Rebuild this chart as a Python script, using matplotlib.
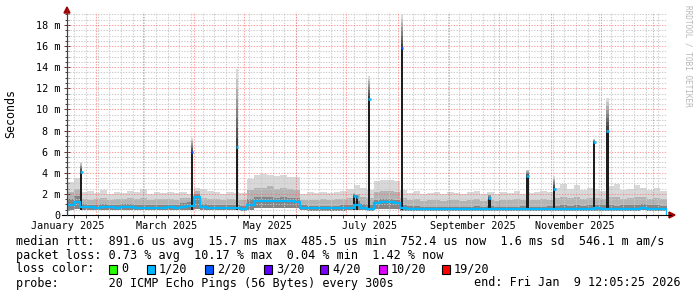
import matplotlib
matplotlib.use('Agg')
import matplotlib.pyplot as plt
import matplotlib.dates as mdates
from matplotlib.ticker import MultipleLocator, FuncFormatter
from matplotlib.patches import Rectangle, Polygon
from matplotlib.lines import Line2D
import numpy as np
import pandas as pd

plt.rcParams['font.family'] = ['DejaVu Sans Mono']
plt.rcParams['lines.scale_dashes'] = False

# ---------------- data ----------------
START = pd.Timestamp('2025-01-14 12:05:25')
END = pd.Timestamp('2026-01-09 12:05:25')
STEP_DAYS = 4  # consolidation step of the series below

# values in milliseconds, one per 4-day step
median_ms = [0.95, 1.25, 0.75, 0.72, 0.70, 0.80, 0.72, 0.70, 0.75, 0.80,
             0.70, 0.70, 0.68, 0.68, 0.70, 0.72, 0.70, 0.80, 0.85, 1.70,
             0.75, 0.65, 0.68, 0.65, 0.68, 0.65, 0.60, 0.95, 1.35, 1.30,
             1.35, 1.30, 1.35, 1.30, 1.25, 0.70, 0.62, 0.62, 0.62, 0.62,
             0.62, 0.65, 0.65, 0.90, 0.70, 0.60, 1.15, 1.20, 1.20, 1.10,
             0.65, 0.58, 0.58, 0.55, 0.55, 0.55, 0.55, 0.55, 0.55, 0.55,
             0.55, 0.58, 0.55, 0.60, 0.55, 0.55, 0.55, 0.55, 0.58, 0.55,
             0.55, 0.55, 0.58, 0.55, 0.58, 0.55, 0.58, 0.55, 0.60, 0.62,
             0.60, 0.60, 0.55, 0.60, 0.60, 0.60, 0.68, 0.60, 0.60, 0.55]
low_ms = [0.50, 0.55, 0.45, 0.45, 0.45, 0.45, 0.45, 0.45, 0.45, 0.45,
          0.45, 0.45, 0.45, 0.45, 0.45, 0.45, 0.45, 0.45, 0.45, 0.60,
          0.45, 0.45, 0.45, 0.45, 0.45, 0.45, 0.42, 0.50, 0.70, 0.70,
          0.70, 0.70, 0.70, 0.70, 0.70, 0.45, 0.42, 0.42, 0.42, 0.42,
          0.42, 0.42, 0.45, 0.50, 0.45, 0.42, 0.60, 0.60, 0.60, 0.60,
          0.42, 0.40, 0.40, 0.40, 0.40, 0.40, 0.40, 0.40, 0.40, 0.40,
          0.40, 0.40, 0.40, 0.40, 0.40, 0.40, 0.40, 0.40, 0.40, 0.40,
          0.40, 0.40, 0.40, 0.40, 0.40, 0.40, 0.40, 0.40, 0.40, 0.42,
          0.40, 0.40, 0.40, 0.40, 0.40, 0.40, 0.45, 0.40, 0.40, 0.40]
dense_ms = [1.50, 1.80, 1.00, 0.95, 0.95, 1.05, 0.95, 0.95, 1.00, 1.05,
            0.95, 0.95, 0.92, 0.92, 0.95, 0.95, 0.95, 1.10, 1.20, 2.00,
            1.00, 0.90, 0.92, 0.90, 0.92, 0.90, 0.85, 1.50, 1.70, 1.70,
            1.70, 1.65, 1.70, 1.65, 1.60, 0.95, 0.88, 0.88, 0.88, 0.88,
            0.88, 0.90, 0.95, 1.30, 1.00, 0.90, 1.45, 1.50, 1.50, 1.40,
            0.95, 0.85, 0.85, 0.80, 0.80, 0.80, 0.80, 0.80, 0.80, 0.80,
            0.80, 0.85, 0.80, 0.85, 0.80, 0.80, 0.80, 0.80, 0.85, 0.80,
            0.80, 0.80, 0.85, 0.85, 0.90, 0.85, 0.90, 0.85, 0.90, 0.95,
            0.90, 0.90, 0.85, 0.90, 0.90, 0.90, 1.00, 0.90, 0.90, 0.85]
upper_ms = [2.2, 2.5, 1.5, 1.4, 1.5, 1.6, 1.4, 1.5, 1.5, 1.6,
            1.5, 1.6, 1.4, 1.5, 1.5, 1.5, 1.4, 1.6, 1.6, 2.3,
            1.6, 1.5, 1.5, 1.4, 1.5, 1.4, 1.4, 2.4, 2.6, 2.6,
            2.7, 2.5, 2.6, 2.5, 2.4, 1.4, 1.4, 1.4, 1.5, 1.4,
            1.5, 1.5, 1.6, 2.0, 1.7, 1.6, 2.2, 2.3, 2.3, 2.2,
            1.6, 1.4, 1.5, 1.3, 1.4, 1.4, 1.3, 1.4, 1.4, 1.3,
            1.4, 1.5, 1.3, 1.4, 1.3, 1.4, 1.4, 1.5, 1.4, 1.4,
            1.4, 1.5, 1.4, 1.6, 1.7, 1.6, 1.7, 1.5, 1.6, 1.6,
            1.5, 1.7, 1.7, 1.5, 1.6, 1.7, 1.7, 1.5, 1.6, 1.5]
top_ms = [3.1, 3.5, 2.2, 2.3, 2.1, 2.4, 2.0, 2.2, 2.1, 2.3,
          2.2, 2.5, 2.0, 2.2, 2.1, 2.2, 2.1, 2.2, 2.0, 2.6,
          2.5, 2.3, 2.2, 2.0, 2.2, 2.1, 2.1, 3.4, 3.8, 3.9,
          3.8, 3.7, 3.8, 3.6, 3.6, 2.0, 2.2, 2.1, 2.2, 2.1,
          2.2, 2.3, 2.5, 2.8, 2.6, 2.4, 3.2, 3.3, 3.3, 3.2,
          2.4, 2.1, 2.3, 2.0, 2.1, 2.2, 2.0, 2.2, 2.1, 2.0,
          2.2, 2.3, 2.0, 2.2, 2.0, 2.2, 2.1, 2.3, 2.0, 2.1,
          2.2, 2.3, 2.2, 2.6, 2.9, 2.5, 2.8, 2.4, 2.6, 2.5,
          2.3, 2.7, 2.9, 2.4, 2.5, 2.8, 2.6, 2.4, 2.6, 2.3]

# short latency spikes: day offset from START, median and max (ms)
spike_day = [8.4, 75.0, 102.0, 172.2, 174.0, 181.2, 201.0, 253.8, 276.3, 292.2, 316.2, 324.6]
spike_median = [4.1, 6.0, 6.4, 1.8, 1.7, 11.0, 15.8, 1.6, 3.7, 2.5, 6.9, 8.0]
spike_top = [5.0, 7.3, 13.8, 2.1, 2.0, 13.2, 19.0, 2.0, 4.3, 3.7, 7.2, 11.1]
spike_loss = ['1/20', '2/20', '1/20', '1/20', '1/20', '1/20', '2/20', '1/20', '1/20', '1/20', '1/20', '1/20']

loss_labels = ['0', '1/20', '2/20', '3/20', '4/20', '10/20', '19/20']
loss_colors = ['#26ff00', '#00b8ff', '#0059ff', '#5e00ff', '#7e00ff', '#dd00ff', '#ff0000']

legend_lines = [
    'median rtt:  891.6 us avg  15.7 ms max  485.5 us min  752.4 us now  1.6 ms sd  546.1 m am/s',
    'packet loss: 0.73 % avg  10.17 % max  0.04 % min  1.42 % now',
]
probe_text = 'probe:       20 ICMP Echo Pings (56 Bytes) every 300s'
end_text = 'end: Fri Jan  9 12:05:25 2026'

# ---------------- figure ----------------
W, H = 697, 297
fig = plt.figure(figsize=(W / 100, H / 100), dpi=100)
fig.patch.set_facecolor('white')

def fx(px):
    return px / W

def fy(py):
    return 1 - py / H

ax_l, ax_r, ax_t, ax_b = 67, 667, 12, 215
ax = fig.add_axes([fx(ax_l), fy(ax_b), (ax_r - ax_l) / W, (ax_b - ax_t) / H])
ax.set_facecolor('white')

x0 = mdates.date2num(START)
x1 = mdates.date2num(END)
d0 = START.to_pydatetime()
d1 = END.to_pydatetime()
n = len(median_ms)
edges = mdates.date2num(pd.date_range(START, periods=n + 1, freq=f'{STEP_DAYS}D'))

ax.stairs(top_ms, edges, baseline=low_ms, fill=True, color='#d8d8d8', lw=0, zorder=1)
ax.stairs(upper_ms, edges, baseline=low_ms, fill=True, color='#b4b4b4', lw=0, zorder=1.1)
ax.stairs(dense_ms, edges, baseline=low_ms, fill=True, color='#858585', lw=0, zorder=1.2)
ax.stairs(median_ms, edges, color='#00b8ff', lw=1.6, zorder=4)

cmap = dict(zip(loss_labels, loss_colors))
sw = 1.8  # spike width in days
for d, m, t, lc in zip(spike_day, spike_median, spike_top, spike_loss):
    xs = x0 + d - sw / 2
    ax.add_patch(Rectangle((xs, 0.45), sw, m - 0.45, facecolor='#1e1e1e', edgecolor='none', zorder=3))
    nseg = 8
    for k in range(nseg):
        ya = m + (t - m) * k / nseg
        yb = m + (t - m) * (k + 1) / nseg
        g = 0.25 + 0.6 * k / (nseg - 1)
        ax.add_patch(Rectangle((xs, ya), sw, yb - ya, facecolor=(g, g, g), edgecolor='none', zorder=3))
    ax.plot([xs, xs + sw], [m, m], color=cmap[lc], lw=1.8, solid_capstyle='butt', zorder=4)

ax.set_xlim(x0, x1)
ax.set_ylim(0, (ax_b - ax_t) / 10.556)

# grids
dot = (0, (1, 1))
ax.yaxis.set_major_locator(MultipleLocator(2))
ax.yaxis.set_minor_locator(MultipleLocator(0.5))
ax.yaxis.set_major_formatter(FuncFormatter(lambda v, p: '0' if v == 0 else f'{int(round(v))} m'))

ax.xaxis.set_major_locator(mdates.MonthLocator(bymonth=[1, 3, 5, 7, 9, 11], bymonthday=15))
ax.xaxis.set_major_formatter(mdates.DateFormatter('%B %Y'))
ax.xaxis.set_minor_locator(mdates.WeekdayLocator(byweekday=mdates.SU))

for v in np.arange(0.5, 19.5, 0.5):
    if abs(v / 2 - round(v / 2)) > 1e-6:
        ax.axhline(v, color='#c8c8c8', lw=0.75, ls=dot, alpha=0.9, zorder=2.5)
for v in np.arange(2, 19.5, 2):
    ax.axhline(v, color='#ff6060', lw=0.75, ls=dot, alpha=0.6, zorder=2.6)
for v in mdates.WeekdayLocator(byweekday=mdates.SU).tick_values(d0, d1):
    if x0 < v < x1:
        ax.axvline(v, color='#c8c8c8', lw=0.75, ls=dot, alpha=0.9, zorder=2.5)
for v in mdates.MonthLocator().tick_values(d0, d1):
    if x0 < v < x1:
        ax.axvline(v, color='#ff6060', lw=0.75, ls=dot, alpha=0.6, zorder=2.6)

for s in ['top', 'right']:
    ax.spines[s].set_visible(False)
ax.spines['left'].set_color('#404040')
ax.spines['left'].set_linewidth(0.8)
ax.spines['bottom'].set_visible(False)

ax.tick_params(axis='y', which='major', direction='inout', length=4, width=0.7, color='#404040',
               labelsize=7.3, pad=3, labelcolor='#000000')
ax.tick_params(axis='y', which='minor', direction='inout', length=2.5, width=0.7, color='#404040')
ax.tick_params(axis='x', which='major', length=0, labelsize=7.3, pad=4, labelcolor='#000000')
ax.tick_params(axis='x', which='minor', direction='out', length=2, width=0.7, color='#404040')

# bottom axis line with arrow, left axis arrow
fig.add_artist(Line2D([fx(62), fx(671)], [fy(215), fy(215)], color='#000000', lw=0.8))
fig.add_artist(Polygon([[fx(669), fy(212)], [fx(675), fy(215)], [fx(669), fy(218)]],
                       closed=True, color='#a00000', transform=fig.transFigure))
fig.add_artist(Line2D([fx(67), fx(67)], [fy(215), fy(9)], color='#404040', lw=0.8))
fig.add_artist(Polygon([[fx(64), fy(13)], [fx(67), fy(7)], [fx(70), fy(13)]],
                       closed=True, color='#a00000', transform=fig.transFigure))

# y label
fig.text(fx(11), fy(114), 'Seconds', rotation=90, ha='center', va='center', fontsize=8.4, color='#000000')
# watermark
fig.text(fx(688), fy(5), 'RRDTOOL / TOBI OETIKER', rotation=270, ha='center', va='top',
         fontsize=5.6, color='#b8b8b8')

# legend
fs = 8.45
fig.text(fx(16), fy(241), legend_lines[0], ha='left', va='center', fontsize=fs, color='#000000')
fig.text(fx(16), fy(255), legend_lines[1], ha='left', va='center', fontsize=fs, color='#000000')
fig.text(fx(16), fy(269), 'loss color:', ha='left', va='center', fontsize=fs, color='#000000')
box_x = [109, 147, 205, 264, 320, 379, 442]
for bx, lab, col in zip(box_x, loss_labels, loss_colors):
    fig.add_artist(Rectangle((fx(bx), fy(274)), 8 / W, 9 / H, facecolor=col, edgecolor='#000000',
                             lw=0.8, transform=fig.transFigure))
    fig.text(fx(bx + 12), fy(269), lab, ha='left', va='center', fontsize=fs, color='#000000')
fig.text(fx(16), fy(283), probe_text, ha='left', va='center', fontsize=fs, color='#000000')
fig.text(fx(681), fy(283), end_text, ha='right', va='center', fontsize=fs, color='#000000')

fig.savefig('out.png', dpi=100, facecolor='white')
